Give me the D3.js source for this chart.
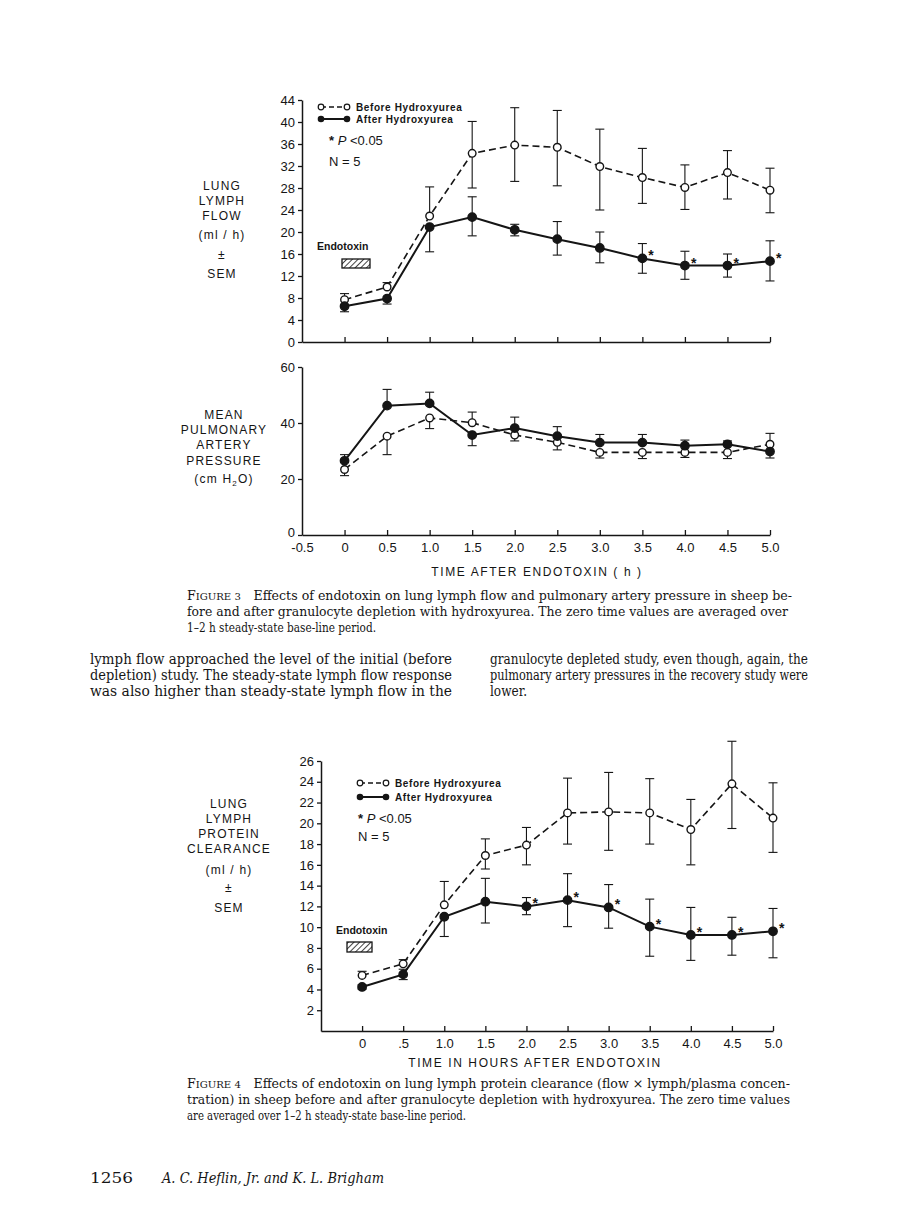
<!DOCTYPE html>
<html><head><meta charset="utf-8">
<script src="https://cdn.jsdelivr.net/npm/d3@7"></script>
<style>
body{margin:0;background:#fff;}
svg{display:block;}
</style></head>
<body>
<svg id="page" width="898" height="1228"></svg>
<script>
// ---------- DATA ----------
const times = [0, 0.5, 1.0, 1.5, 2.0, 2.5, 3.0, 3.5, 4.0, 4.5, 5.0];
const xTickLabels3 = ["-0.5","0","0.5","1.0","1.5","2.0","2.5","3.0","3.5","4.0","4.5","5.0"];
const xTickLabels4 = ["0",".5","1.0","1.5","2.0","2.5","3.0","3.5","4.0","4.5","5.0"];

// Figure 3 top: lung lymph flow (ml/h)
const flowTicks = [0,4,8,12,16,20,24,28,32,36,40,44];
const flowBefore    = [7.7, 10.0, 22.9, 34.3, 35.8, 35.4, 31.9, 29.9, 28.1, 30.8, 27.6];
const flowBeforeUp  = [1.1, 0.8, 5.3, 5.8, 6.8, 6.7, 6.8, 5.3, 4.1, 4.0, 4.0];
const flowBeforeDn  = [0, 0, 0, 6.3, 6.6, 7.0, 7.9, 4.7, 4.0, 4.8, 4.1];
const flowAfter     = [6.5, 7.9, 20.9, 22.7, 20.4, 18.7, 17.1, 15.2, 13.9, 13.9, 14.7];
const flowAfterUp   = [0, 0, 0, 3.7, 1.0, 3.2, 2.9, 2.7, 2.6, 2.1, 3.7];
const flowAfterDn   = [1.0, 1.0, 4.5, 3.4, 1.1, 2.9, 2.7, 2.7, 2.5, 2.1, 3.6];
const flowSig       = [0,0,0,0,0,0,0,1,1,1,1];

// Figure 3 bottom: mean pulmonary artery pressure (cm H2O)
const papTicks = [0,20,40,60];
const papBefore    = [23.4, 35.3, 41.8, 40.1, 35.7, 33.1, 29.5, 29.5, 29.5, 29.5, 32.4];
const papBeforeUp  = [0, 0, 0, 3.8, 0, 0, 0, 0, 0, 0, 3.9];
const papBeforeDn  = [2.2, 6.6, 3.8, 0, 2.1, 2.7, 2.0, 2.2, 1.8, 2.2, 0];
const papAfter     = [26.5, 46.2, 47.0, 35.7, 38.2, 35.3, 33.0, 33.0, 31.9, 32.4, 29.8];
const papAfterUp   = [2.2, 5.8, 4.0, 0, 3.9, 3.4, 2.9, 2.9, 2.0, 1.2, 0];
const papAfterDn   = [0, 0, 0, 3.8, 0, 0, 0, 0, 0, 0, 2.3];

// Figure 4: lung lymph protein clearance (ml/h)
const clrTicks = [2,4,6,8,10,12,14,16,18,20,22,24,26];
const clrBefore    = [5.35, 6.47, 12.15, 16.9, 17.9, 21.0, 21.1, 21.0, 19.4, 23.8, 20.5];
const clrBeforeUp  = [0.4, 0.4, 2.25, 1.6, 1.7, 3.35, 3.8, 3.3, 2.9, 4.1, 3.4];
const clrBeforeDn  = [0, 0, 0, 1.3, 1.9, 3.0, 3.7, 3.0, 3.4, 4.3, 3.3];
const clrAfter     = [4.24, 5.45, 11.0, 12.45, 12.0, 12.6, 11.9, 10.05, 9.25, 9.25, 9.6];
const clrAfterUp   = [0.2, 0.5, 0, 2.25, 0.85, 2.55, 2.2, 2.65, 2.65, 1.7, 2.2];
const clrAfterDn   = [0.2, 0.5, 1.9, 2.05, 0.8, 2.55, 2.0, 2.85, 2.45, 1.95, 2.55];
const clrSig       = [0,0,0,0,1,1,1,1,1,1,1];

const legendLabels = ["Before Hydroxyurea", "After Hydroxyurea"];

// ---------- DRAW ----------
const INK = "#151515";
const SANS = "'Liberation Sans', Arial, sans-serif";
const SERIF = "'DejaVu Serif', 'Liberation Serif', serif";
const svg = d3.select("#page");

const defs = svg.append("defs");
const pat = defs.append("pattern").attr("id","hatch").attr("patternUnits","userSpaceOnUse")
  .attr("width",4).attr("height",4).attr("patternTransform","rotate(45)");
pat.append("rect").attr("width",4).attr("height",4).attr("fill","#fff");
pat.append("line").attr("x1",0).attr("y1",0).attr("x2",0).attr("y2",4)
  .attr("stroke",INK).attr("stroke-width",1.6);

function drawSeries(g, x, y, vals, up, dn, filled, dashed) {
  const line = d3.line().x((d,i)=>x(times[i])).y(d=>y(d));
  vals.forEach((v,i)=>{
    const cx = x(times[i]);
    [[up[i],1],[dn[i],-1]].forEach(([e,s])=>{
      if (!e) return;
      const yy = y(v + s*e);
      g.append("line").attr("x1",cx).attr("x2",cx).attr("y1",y(v)).attr("y2",yy)
        .attr("stroke",INK).attr("stroke-width",1.1);
      g.append("line").attr("x1",cx-4.5).attr("x2",cx+4.5).attr("y1",yy).attr("y2",yy)
        .attr("stroke",INK).attr("stroke-width",1.1);
    });
  });
  g.append("path").attr("d", line(vals)).attr("fill","none").attr("stroke",INK)
    .attr("stroke-width", dashed?1.6:2).attr("stroke-dasharray", dashed?"7,4":null);
  g.selectAll(null).data(vals).enter().append("circle")
    .attr("cx",(d,i)=>x(times[i])).attr("cy",d=>y(d)).attr("r",filled?4.2:3.8)
    .attr("fill",filled?INK:"#fff").attr("stroke",INK).attr("stroke-width",1.4);
}

function drawStars(g, x, y, vals, sig) {
  vals.forEach((v,i)=>{
    if (!sig[i]) return;
    g.append("text").attr("x",x(times[i])+6).attr("y",y(v)+2)
      .attr("font-family",SANS).attr("font-weight","bold").attr("font-size",14)
      .attr("fill",INK).text("*");
  });
}

function yAxis(g, y, ticks, xPos) {
  const ax = d3.axisLeft(y).tickValues(ticks).tickSize(4).tickSizeOuter(0).tickPadding(3);
  const ga = g.append("g").attr("transform",`translate(${xPos},0)`).call(ax);
  ga.select(".domain").attr("stroke",INK).attr("stroke-width",1.5);
  ga.selectAll(".tick line").attr("stroke",INK).attr("stroke-width",1.3);
  ga.selectAll(".tick text").attr("font-family",SANS).attr("font-size",13).attr("fill",INK);
  return ga;
}

function xAxis(g, x, yPos, tickVals, labels) {
  const ax = d3.axisBottom(x).tickValues(tickVals).tickSize(-5).tickSizeOuter(0).tickPadding(8)
    .tickFormat((d,i)=> labels ? labels[i] : "");
  const ga = g.append("g").attr("transform",`translate(0,${yPos})`).call(ax);
  ga.select(".domain").attr("stroke",INK).attr("stroke-width",1.5);
  ga.selectAll(".tick line").attr("stroke",INK).attr("stroke-width",1.3);
  ga.selectAll(".tick text").attr("font-family",SANS).attr("font-size",13).attr("fill",INK);
  return ga;
}

function stackLabel(lines, cx, ys, size) {
  lines.forEach((t,i)=>{
    svg.append("text").attr("x",cx).attr("y",ys[i]).attr("text-anchor","middle")
      .attr("font-family",SANS).attr("font-size",size||12).attr("letter-spacing",1.2)
      .attr("fill",INK).text(t);
  });
}

function legend(g, x0, y0, gap) {
  g.append("line").attr("x1",x0).attr("x2",x0+26).attr("y1",y0).attr("y2",y0)
    .attr("stroke",INK).attr("stroke-width",1.4).attr("stroke-dasharray","5,3");
  [x0,x0+26].forEach(cx=>g.append("circle").attr("cx",cx).attr("cy",y0).attr("r",2.8)
    .attr("fill","#fff").attr("stroke",INK).attr("stroke-width",1.2));
  g.append("text").attr("x",x0+35).attr("y",y0+3.5).attr("font-family",SANS).attr("font-weight","bold")
    .attr("font-size",10).attr("letter-spacing",0.6).attr("fill",INK).text(legendLabels[0]);
  const y1 = y0+gap;
  g.append("line").attr("x1",x0).attr("x2",x0+26).attr("y1",y1).attr("y2",y1)
    .attr("stroke",INK).attr("stroke-width",2);
  [x0,x0+26].forEach(cx=>g.append("circle").attr("cx",cx).attr("cy",y1).attr("r",3.3)
    .attr("fill",INK));
  g.append("text").attr("x",x0+35).attr("y",y1+3.5).attr("font-family",SANS).attr("font-weight","bold")
    .attr("font-size",10).attr("letter-spacing",0.6).attr("fill",INK).text(legendLabels[1]);
}

function pnText(g, x0, yP, yN) {
  const t = g.append("text").attr("x",x0).attr("y",yP).attr("font-family",SANS).attr("font-size",13).attr("fill",INK);
  t.append("tspan").attr("font-weight","bold").text("* ");
  t.append("tspan").attr("font-style","italic").text("P");
  t.append("tspan").text(" <0.05");
  g.append("text").attr("x",x0).attr("y",yN).attr("font-family",SANS).attr("font-size",13)
    .attr("fill",INK).text("N = 5");
}

function endotoxin(g, tx, ty, bx, by, bw, bh) {
  g.append("text").attr("x",tx).attr("y",ty).attr("font-family",SANS).attr("font-weight","bold")
    .attr("font-size",10.5).attr("fill",INK).text("Endotoxin");
  g.append("rect").attr("x",bx).attr("y",by).attr("width",bw).attr("height",bh)
    .attr("fill","url(#hatch)").attr("stroke",INK).attr("stroke-width",1.3);
}

// ----- Chart 1: lymph flow -----
const x1 = d3.scaleLinear().domain([-0.5,5]).range([302,770]);
const y1 = d3.scaleLinear().domain([0,44]).range([342,100]);
const g1 = svg.append("g");
yAxis(g1, y1, flowTicks, 302);
xAxis(g1, x1, 342, times, null);
drawSeries(g1, x1, y1, flowBefore, flowBeforeUp, flowBeforeDn, false, true);
drawSeries(g1, x1, y1, flowAfter, flowAfterUp, flowAfterDn, true, false);
drawStars(g1, x1, y1, flowAfter, flowSig);
legend(g1, 321, 107, 12);
pnText(g1, 329, 145, 166);
endotoxin(g1, 317, 250, 342, 259, 28, 9);
stackLabel(["LUNG","LYMPH","FLOW","(ml / h)","±","SEM"], 222, [190,205,220,239,259,278]);

// ----- Chart 2: pulmonary artery pressure -----
const y2 = d3.scaleLinear().domain([0,60]).range([535,367]);
const g2 = svg.append("g");
const ya2 = yAxis(g2, y2, papTicks, 302);
ya2.selectAll(".tick").filter(d=>d===0).select("text").attr("dy","0.1em");
xAxis(g2, x1, 535, [-0.5].concat(times), xTickLabels3);
g2.selectAll(".tick").filter(d=>d===-0.5).select("line").remove();
drawSeries(g2, x1, y2, papBefore, papBeforeUp, papBeforeDn, false, true);
drawSeries(g2, x1, y2, papAfter, papAfterUp, papAfterDn, true, false);
stackLabel(["MEAN","PULMONARY","ARTERY","PRESSURE"], 224, [419,434,449,465]);
{
  const t = svg.append("text").attr("x",224).attr("y",483).attr("text-anchor","middle")
    .attr("font-family",SANS).attr("font-size",12).attr("letter-spacing",1.2).attr("fill",INK);
  t.append("tspan").text("(cm H");
  t.append("tspan").attr("font-size",8).attr("dy",3).text("2");
  t.append("tspan").attr("dy",-3).text("O)");
}
svg.append("text").attr("x",537).attr("y",576).attr("text-anchor","middle")
  .attr("font-family",SANS).attr("font-size",12).attr("letter-spacing",1.6).attr("fill",INK)
  .text("TIME  AFTER  ENDOTOXIN  ( h )");

// ----- Chart 3: protein clearance -----
const x3 = d3.scaleLinear().domain([-0.5,5]).range([321,773]);
const y3 = d3.scaleLinear().domain([0,26]).range([1031,761]);
const g3 = svg.append("g");
yAxis(g3, y3, clrTicks, 321);
xAxis(g3, x3, 1031, times, xTickLabels4);
drawSeries(g3, x3, y3, clrBefore, clrBeforeUp, clrBeforeDn, false, true);
drawSeries(g3, x3, y3, clrAfter, clrAfterUp, clrAfterDn, true, false);
drawStars(g3, x3, y3, clrAfter, clrSig);
legend(g3, 360, 783, 14);
pnText(g3, 358, 823, 841);
endotoxin(g3, 336, 934, 347, 942, 25, 10);
stackLabel(["LUNG","LYMPH","PROTEIN","CLEARANCE","(ml / h)","±","SEM"], 229, [808,823,838,853,874,892,912]);
svg.append("text").attr("x",535).attr("y",1067).attr("text-anchor","middle")
  .attr("font-family",SANS).attr("font-size",12).attr("letter-spacing",1.6).attr("fill",INK)
  .text("TIME  IN  HOURS  AFTER  ENDOTOXIN");

// ---------- BODY TEXT ----------
function textLine(x, y, str, size, len, italic) {
  const t = svg.append("text").attr("x",x).attr("y",y).attr("font-family",SERIF)
    .attr("font-size",size).attr("fill",INK).text(str);
  if (len) t.attr("textLength",len).attr("lengthAdjust","spacingAndGlyphs");
  if (italic) t.attr("font-style","italic");
  return t;
}
function captionLine(x, y, label, rest, len) {
  const t = textLine(x, y, "", 12.5, len);
  t.append("tspan").text(label[0]);
  t.append("tspan").attr("font-size",10).text(label.slice(1).toUpperCase());
  t.append("tspan").text("\u2002\u2002" + rest);
}
captionLine(187, 600, "Figure 3", "Effects of endotoxin on lung lymph flow and pulmonary artery pressure in sheep be-", 605);
textLine(187, 616, "fore and after granulocyte depletion with hydroxyurea. The zero time values are averaged over", 12.5, 601);
textLine(187, 632, "1–2 h steady-state base-line period.", 12.5, 189);

textLine(90, 664, "lymph flow approached the level of the initial (before", 14, 362);
textLine(90, 680, "depletion) study. The steady-state lymph flow response", 14, 362);
textLine(90, 696, "was also higher than steady-state lymph flow in the", 14, 362);
textLine(490, 664, "granulocyte depleted study, even though, again, the", 14, 318);
textLine(490, 680, "pulmonary artery pressures in the recovery study were", 14, 318);
textLine(490, 696, "lower.", 14, 37);

captionLine(187, 1088, "Figure 4", "Effects of endotoxin on lung lymph protein clearance (flow × lymph/plasma concen-", 603);
textLine(187, 1104, "tration) in sheep before and after granulocyte depletion with hydroxyurea. The zero time values", 12.5, 603);
textLine(187, 1120, "are averaged over 1–2 h steady-state base-line period.", 12.5, 279);

textLine(90, 1183, "1256", 15, 43);
textLine(162, 1183, "A. C. Heflin, Jr. and K. L. Brigham", 15, 222, true);
</script>
</body></html>
